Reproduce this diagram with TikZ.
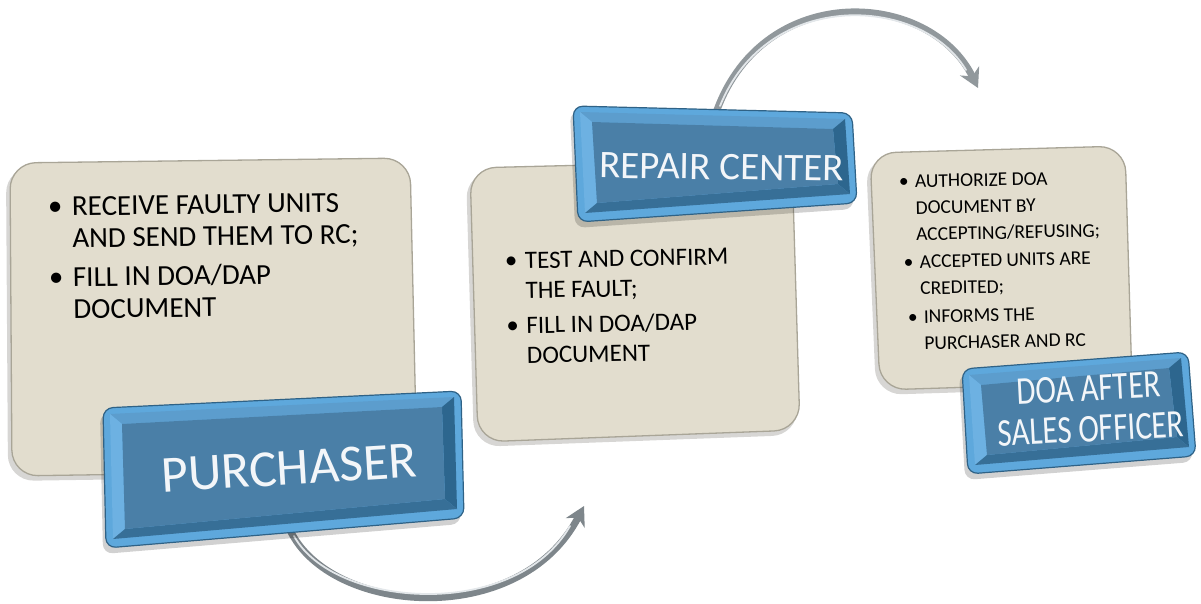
\documentclass[tikz,border=0pt]{standalone}
\usepackage{fontspec}
\setmainfont{Carlito}
\usetikzlibrary{calc,arrows.meta}
\definecolor{cardfill}{HTML}{E2DDCE}
\definecolor{cardline}{HTML}{A9A597}
\definecolor{cardshade}{HTML}{8C8A84}
\definecolor{rimlight}{HTML}{5EA8DC}
\definecolor{rimdark}{HTML}{2F6286}
\definecolor{bevtop}{HTML}{5C9DCD}
\definecolor{bevleft}{HTML}{6DB1E2}
\definecolor{bevright}{HTML}{2D668E}
\definecolor{bevbottom}{HTML}{376F97}
\definecolor{face}{HTML}{4A7FA7}
\definecolor{tube}{HTML}{7E868B}
\definecolor{tubehi}{HTML}{E3E7EA}
\definecolor{btntext}{HTML}{F3F6F9}

% bevelled label button: name, corners TL TR BR BL
\newcommand\bevelbtn[5]{%
  \coordinate (#1-tl) at #2; \coordinate (#1-tr) at #3;
  \coordinate (#1-br) at #4; \coordinate (#1-bl) at #5;
  \coordinate (#1-p1) at ($(#1-tl)+(7,6)$);
  \coordinate (#1-p2) at ($(#1-tr)+(-7,6)$);
  \coordinate (#1-p3) at ($(#1-br)+(-7,-9)$);
  \coordinate (#1-p4) at ($(#1-bl)+(7,-9)$);
  \coordinate (#1-q1) at ($(#1-p1)+(12,10)$);
  \coordinate (#1-q2) at ($(#1-p2)+(-12,10)$);
  \coordinate (#1-q3) at ($(#1-p3)+(-12,-10)$);
  \coordinate (#1-q4) at ($(#1-p4)+(12,-10)$);
  \fill[black,opacity=.18,rounded corners=10pt] ($(#1-tl)+(-3,5)$) -- ($(#1-tr)+(-3,5)$) -- ($(#1-br)+(-3,6)$) -- ($(#1-bl)+(-3,6)$) -- cycle;
  \filldraw[fill=rimlight,draw=rimdark,line width=1.2pt,rounded corners=10pt] (#1-tl) -- (#1-tr) -- (#1-br) -- (#1-bl) -- cycle;
  \fill[bevtop] (#1-p1) -- (#1-p2) -- (#1-q2) -- (#1-q1) -- cycle;
  \fill[bevleft] (#1-p4) -- (#1-p1) -- (#1-q1) -- (#1-q4) -- cycle;
  \fill[bevright] (#1-p2) -- (#1-p3) -- (#1-q3) -- (#1-q2) -- cycle;
  \fill[bevbottom] (#1-p3) -- (#1-p4) -- (#1-q4) -- (#1-q3) -- cycle;
  \fill[face] (#1-q1) -- (#1-q2) -- (#1-q3) -- (#1-q4) -- cycle;
}
% rounded note card with a soft shadow: corners TL TR BR BL
\newcommand\notecard[4]{%
  \fill[cardshade,opacity=.35,rounded corners=26pt] ($#1+(-4,4)$) -- ($#2+(-2,4)$) -- ($#3+(-2,5)$) -- ($#4+(-4,5)$) -- cycle;
  \filldraw[fill=cardfill,draw=cardline,line width=1.3pt,rounded corners=26pt] #1 -- #2 -- #3 -- #4 -- cycle;
}
\newcommand\bul[1]{\makebox[#1][l]{•}}

\begin{document}
\begin{tikzpicture}[x=1pt,y=-1pt,
  tubeline/.style={line width=7pt,draw=tube,-{Stealth[length=19pt,width=21pt,inset=6pt]}},
  tubeglow/.style={line width=1.8pt,draw=tubehi,line cap=round},
  listtext/.style={inner sep=0pt,anchor=base west,text=black},
  btnlabel/.style={inner sep=0pt,text=btntext,align=center}]
\useasboundingbox (0,0) rectangle (1201,604);

% connector end points
\coordinate (a1s) at (290,530);
\coordinate (a1e) at (584,506);
\coordinate (a2s) at (717,110);
\coordinate (a2e) at (978,88);

% curved arrows (drawn first so the buttons cover their tails)
\draw[tubeline] (a1s) .. controls (330,615) and (520,630) .. (a1e);
\draw[tubeglow] ($(a1s)+(4,6)$) .. controls (333,608) and (515,622) .. ($(a1e)+(-14,20)$);
\draw[tubeline,draw=tube!85] (a2s) .. controls (765,-20) and (930,-10) .. (a2e);
\draw[tubeglow] ($(a2s)+(3,-4)$) .. controls (768,-13) and (922,-4) .. ($(a2e)+(-12,-18)$);

% note cards
\notecard{(10,163)}{(410,158)}{(417,470)}{(12,476)}
\notecard{(470,168)}{(792,160)}{(800,430)}{(478,442)}
\notecard{(870,153)}{(1125,146)}{(1132,382)}{(880,390)}

% card texts
\node[listtext,font=\fontsize{29}{32}\selectfont,rotate=0.8] (t1) at (48,216)
 {\begin{tabular}[t]{@{}l@{}}
  \bul{24pt}RECEIVE FAULTY UNITS\\
  \hspace*{24pt}AND SEND THEM TO RC;\\[7pt]
  \bul{24pt}FILL IN DOA/DAP\\
  \hspace*{24pt}DOCUMENT
  \end{tabular}};
\node[listtext,font=\fontsize{25}{30}\selectfont,rotate=1.2] (t2) at (505,269)
 {\begin{tabular}[t]{@{}l@{}}
  \bul{20pt}TEST AND CONFIRM\\
  \hspace*{20pt}THE FAULT;\\[5pt]
  \bul{20pt}FILL IN DOA/DAP\\
  \hspace*{20pt}DOCUMENT
  \end{tabular}};
\node[listtext,font=\fontsize{19.5}{26.5}\selectfont,rotate=1.2] (t3) at (899,188)
 {\begin{tabular}[t]{@{}l@{}}
  \bul{16pt}AUTHORIZE DOA\\
  \hspace*{16pt}DOCUMENT BY\\
  \hspace*{16pt}ACCEPTING/REFUSING;\\[1pt]
  \hspace*{3pt}\bul{16pt}ACCEPTED UNITS ARE\\
  \hspace*{19pt}CREDITED;\\[2pt]
  \hspace*{6pt}\bul{16pt}INFORMS THE\\
  \hspace*{22pt}PURCHASER AND RC
  \end{tabular}};

% label buttons
\bevelbtn{b1}{(103,408)}{(461,391)}{(464,518)}{(106,548)}
\node[btnlabel,font=\fontsize{52}{60}\selectfont,rotate=3.5] (purch) at (289,468) {PURCHASER};

\bevelbtn{b2}{(573,106)}{(852,113)}{(857,203)}{(578,222)}
\node[btnlabel,font=\fontsize{39}{46}\selectfont,rotate=-0.8] (rc) at (722,167) {REPAIR CENTER};

\bevelbtn{b3}{(962,369)}{(1188,352)}{(1196,456)}{(968,474)}
\node[btnlabel,font=\fontsize{31}{32}\selectfont,rotate=3] (doa) at (1090,413)
 {\scalebox{1}[1.27]{\begin{tabular}{@{}c@{}}DOA AFTER\\SALES OFFICER\end{tabular}}};
\end{tikzpicture}
\end{document}
